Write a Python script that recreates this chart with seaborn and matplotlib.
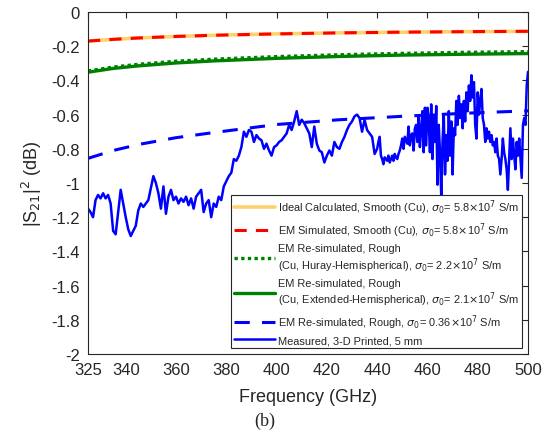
import numpy as np
import matplotlib
matplotlib.use("Agg")
import matplotlib.pyplot as plt
import seaborn as sns
from matplotlib.ticker import FuncFormatter

# ---------------- data ----------------
smooth_f = [325, 335, 345, 360, 375, 400, 425, 450, 475, 500]
ideal_smooth = [-0.170, -0.160, -0.152, -0.143, -0.136, -0.128, -0.122, -0.118, -0.115, -0.113]
em_smooth = [-0.170, -0.160, -0.152, -0.143, -0.136, -0.128, -0.122, -0.118, -0.115, -0.113]
em_huray = [-0.345, -0.322, -0.306, -0.288, -0.276, -0.261, -0.250, -0.242, -0.236, -0.232]
em_ext = [-0.352, -0.330, -0.315, -0.298, -0.286, -0.271, -0.260, -0.252, -0.247, -0.243]
em_rough = [-0.856, -0.810, -0.775, -0.735, -0.705, -0.658, -0.630, -0.610, -0.592, -0.578]

meas_f_a = np.arange(325, 440, 1.0)
meas_a = [
    -1.15, -1.17, -1.20, -1.10, -1.07, -1.09, -1.06, -1.09, -1.07, -1.12,
    -1.28, -1.30, -1.17, -1.04, -1.12, -1.20, -1.27, -1.31, -1.28, -1.25,
    -1.16, -1.12, -1.14, -1.12, -1.10, -1.03, -0.96, -1.00, -1.06, -1.15,
    -1.02, -1.18, -1.08, -1.04, -1.10, -1.08, -1.12, -1.09, -1.11, -1.08,
    -1.13, -1.09, -1.15, -1.08, -1.06, -1.04, -1.17, -1.12, -1.10, -1.20,
    -1.12, -1.14, -1.08, -1.10, -1.02, -0.99, -0.96, -0.94, -0.86,
    -0.87, -0.84, -0.79, -0.70, -0.73, -0.69, -0.70, -0.76, -0.72, -0.74,
    -0.75, -0.80, -0.77, -0.81, -0.84, -0.79, -0.78, -0.76, -0.75, -0.73,
    -0.71, -0.66, -0.69, -0.64, -0.58, -0.66, -0.63, -0.65, -0.68, -0.71,
    -0.79, -0.67, -0.77, -0.81, -0.82, -0.88, -0.84, -0.81, -0.84, -0.76,
    -0.79, -0.80, -0.76, -0.73, -0.69, -0.66, -0.64, -0.61, -0.60, -0.62,
    -0.70, -0.63, -0.69, -0.71, -0.73, -0.83,
]
meas_f_b = np.arange(440, 500.01, 0.5)
meas_b = [
    -0.80, -0.76, -0.73, -0.84, -0.86, -0.89, -0.85, -0.86, -0.87, -0.84,
    -0.88, -0.86, -0.84, -0.87, -0.83, -0.85, -0.86, -0.83, -0.81, -0.78,
    -0.74, -0.80, -0.73, -0.75, -0.77, -0.67, -0.78, -0.72, -0.71, -0.81,
    -0.68, -0.66, -0.76, -0.61, -0.79, -0.69, -0.58, -0.82, -0.56, -0.78,
    -0.56, -0.63, -0.82, -0.54, -0.86, -0.60, -0.76, -0.55, -1.01, -0.66,
    -0.82, -1.08, -0.76, -0.60, -0.95, -0.72, -0.87, -0.58, -0.84, -0.64,
    -0.95, -0.68, -0.72, -0.52, -0.66, -0.49, -0.62, -0.54, -0.68, -0.52,
    -0.64, -0.47, -0.58, -0.43, -0.52, -0.37, -0.50, -0.41, -0.66, -0.74,
    -0.47, -0.60, -0.52, -0.45, -0.62, -0.66, -0.76, -0.68, -0.74, -0.70,
    -0.76, -0.72, -0.78, -0.76, -0.82, -0.74, -0.84, -0.86, -0.95, -0.86,
    -0.74, -0.82, -0.86, -0.92, -1.04, -0.86, -0.68, -0.86, -0.74, -0.84,
    -0.92, -0.76, -0.84, -0.74, -0.86, -0.97, -0.66, -0.62, -0.66, -0.43,
    -0.35,
]
meas_f = np.concatenate([meas_f_a, meas_f_b])
meas = np.array(meas_a + meas_b)

x_ticks = [325, 340, 360, 380, 400, 420, 440, 460, 480, 500]
y_ticks = [0, -0.2, -0.4, -0.6, -0.8, -1, -1.2, -1.4, -1.6, -1.8, -2]

labels = [
    r"Ideal Calculated, Smooth (Cu), $\sigma_0$= 5.8$\times$10$^7$ S/m",
    r"EM Simulated, Smooth (Cu), $\sigma_0$= 5.8$\times$10$^7$ S/m",
    "EM Re-simulated, Rough\n" + r"(Cu, Huray-Hemispherical), $\sigma_0$= 2.2$\times$10$^7$ S/m",
    "EM Re-simulated, Rough\n" + r"(Cu, Extended-Hemispherical), $\sigma_0$= 2.1$\times$10$^7$ S/m",
    r"EM Re-simulated, Rough, $\sigma_0$= 0.36$\times$10$^7$ S/m",
    "Measured, 3-D Printed, 5 mm",
]

# ---------------- style ----------------
sns.set_style("white")
plt.rcParams["font.family"] = ["Liberation Sans", "DejaVu Sans"]
plt.rcParams["axes.unicode_minus"] = False
plt.rcParams["mathtext.fontset"] = "dejavusans"

fig = plt.figure(figsize=(5.51, 4.35), dpi=100)
ax = fig.add_axes([88 / 551, 1 - 355 / 435, (528 - 88) / 551, (355 - 13) / 435])

sns.lineplot(x=smooth_f, y=ideal_smooth, ax=ax, color="#FFD36B", lw=2.6, label=labels[0])
sns.lineplot(x=smooth_f, y=em_smooth, ax=ax, color="#FF0000", lw=2.2, linestyle=(0, (4, 3)), label=labels[1])
sns.lineplot(x=smooth_f, y=em_huray, ax=ax, color="#008000", lw=2.4, linestyle=(0, (1, 1)), label=labels[2])
sns.lineplot(x=smooth_f, y=em_ext, ax=ax, color="#008000", lw=2.4, label=labels[3])
sns.lineplot(x=smooth_f, y=em_rough, ax=ax, color="#0000FF", lw=2.2, linestyle=(0, (5, 4)), label=labels[4])
sns.lineplot(x=meas_f, y=meas, ax=ax, color="#0000FF", lw=1.8, label=labels[5])

ax.set_xlim(325, 500)
ax.set_ylim(-2, 0)
ax.set_xticks(x_ticks)
ax.set_yticks(y_ticks)
ax.yaxis.set_major_formatter(FuncFormatter(lambda v, p: "%g" % v))
ax.tick_params(direction="in", length=4, width=0.8, colors="#262626", labelsize=12,
               top=True, right=True, labelcolor="#262626", pad=6)
for s in ax.spines.values():
    s.set_color("#262626")
    s.set_linewidth(0.8)

ax.set_xlabel("Frequency (GHz)", fontsize=13, color="#262626", labelpad=8)
ax.set_ylabel(r"|S$_{21}$|$^2$ (dB)", fontsize=13, color="#262626", labelpad=5)

leg = ax.legend(loc="lower right", bbox_to_anchor=(0.986, 0.0175), borderaxespad=0,
                fontsize=7.9, frameon=True, fancybox=False, edgecolor="#262626",
                framealpha=1, handlelength=3.7, labelspacing=0.38, borderpad=0.25,
                handletextpad=0.3)
leg.get_frame().set_linewidth(0.8)
for t in leg.get_texts():
    t.set_linespacing(1.15)

fig.text(0.481, 0.032, "(b)", family=["Liberation Serif", "DejaVu Serif"], fontsize=13,
         ha="center", va="center")

fig.savefig("out.png", dpi=100)
